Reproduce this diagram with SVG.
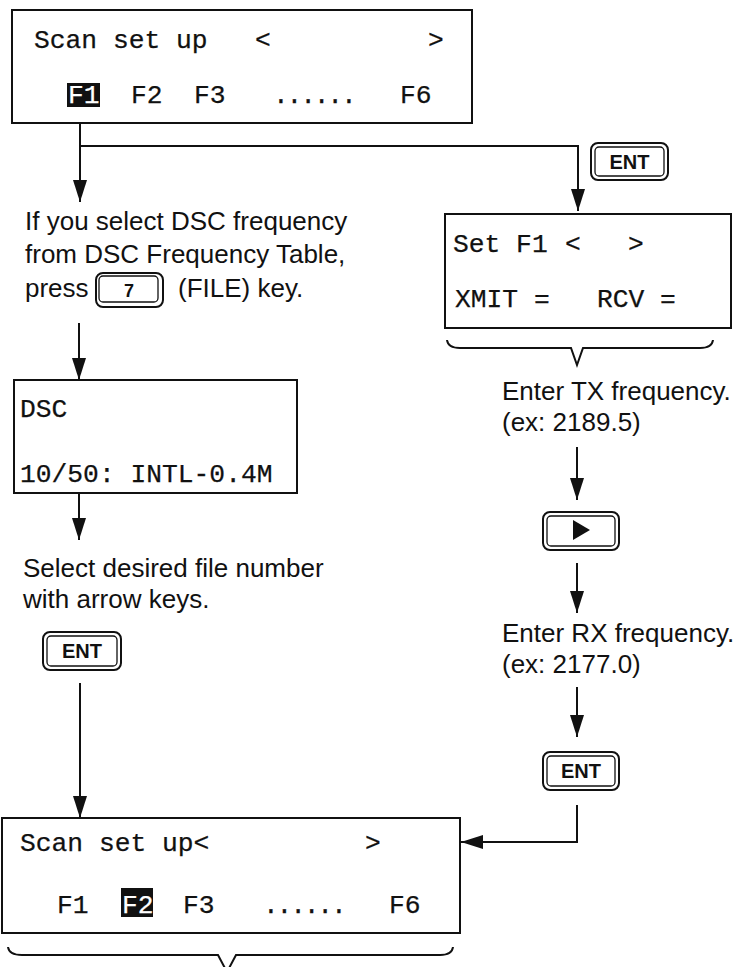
<svg xmlns="http://www.w3.org/2000/svg" width="745" height="967" viewBox="0 0 745 967">
<defs>
<style>
.box{fill:none;stroke:#111;stroke-width:2}
.mono{font-family:"Liberation Mono","DejaVu Sans Mono",monospace;font-size:26.3px;fill:#111;stroke:#111;stroke-width:0.25}
.inv{fill:#fff;stroke:#fff}
.sans{font-family:"Liberation Sans",Arial,sans-serif;font-size:26px;fill:#111}
.key{font-family:"Liberation Sans",Arial,sans-serif;font-weight:bold;font-size:20px;fill:#111;text-anchor:middle}
.kout{fill:#fff;stroke:#111;stroke-width:2}
.kin{fill:none;stroke:#111;stroke-width:1.3}
.conn{fill:none;stroke:#111;stroke-width:2}
.dots{letter-spacing:-2.2px}
</style>
<marker id="ah" markerUnits="userSpaceOnUse" markerWidth="22" markerHeight="14" refX="22" refY="7" orient="auto">
<path d="M0,0 L22,7 L0,14 Z" fill="#111"/>
</marker>
</defs>
<rect width="745" height="967" fill="#fff"/>

<g id="connectors">
<path class="conn" d="M80,123 V202" marker-end="url(#ah)"/>
<path class="conn" d="M80,146 H578 V211" marker-end="url(#ah)"/>
<path class="conn" d="M79,323 V380" marker-end="url(#ah)"/>
<path class="conn" d="M79,493 V540" marker-end="url(#ah)"/>
<path class="conn" d="M80,683 V818" marker-end="url(#ah)"/>
<path class="conn" d="M577,447 V500" marker-end="url(#ah)"/>
<path class="conn" d="M577,563 V613" marker-end="url(#ah)"/>
<path class="conn" d="M577,687 V737" marker-end="url(#ah)"/>
<path class="conn" d="M577,805 V842 H461" marker-end="url(#ah)"/>
<path class="conn" d="M447,340 Q448,348 460,348 H571 L577,365 L583,348 H700 Q712,348 713,340"/>
<path class="conn" d="M8,947 Q9,955 22,955 H218 L227,972 L236,955 H440 Q452,955 453,947"/>
</g>

<g id="top-display">
<rect class="box" x="12" y="10" width="460" height="113"/>
<text class="mono" y="48"><tspan x="34">Scan set up</tspan><tspan x="255">&lt;</tspan><tspan x="428">&gt;</tspan></text>
<rect x="67" y="83" width="33" height="24" fill="#111"/>
<text class="mono" y="103"><tspan x="68" class="inv">F1</tspan><tspan x="131">F2</tspan><tspan x="194">F3</tspan><tspan x="273" class="dots">......</tspan><tspan x="400">F6</tspan></text>
</g>

<g id="key-ent-top">
<rect class="kout" x="591" y="143" width="77" height="37" rx="7"/>
<rect class="kin" x="595" y="147" width="69" height="29" rx="4"/>
<text class="key" x="629.5" y="169">ENT</text>
</g>

<g id="text-select-dsc">
<text class="sans" x="25" y="230">If you select DSC frequency</text>
<text class="sans" x="25" y="263">from DSC Frequency Table,</text>
<text class="sans" x="25" y="297">press</text>
<text class="sans" x="178" y="297">(FILE) key.</text>
</g>

<g id="key-7">
<rect class="kout" x="96" y="273" width="67" height="34" rx="7"/>
<rect class="kin" x="99" y="276" width="59" height="26" rx="4"/>
<text class="key" x="129" y="297" style="font-size:18px">7</text>
</g>

<g id="set-f1-display">
<rect class="box" x="445" y="214" width="286" height="114"/>
<text class="mono" y="252"><tspan x="453">Set F1</tspan><tspan x="565">&lt;</tspan><tspan x="628">&gt;</tspan></text>
<text class="mono" y="307"><tspan x="455">XMIT =</tspan><tspan x="597">RCV =</tspan></text>
</g>

<g id="dsc-display">
<rect class="box" x="14" y="380" width="283" height="113"/>
<text class="mono" x="20" y="417">DSC</text>
<text class="mono" x="20" y="482">10/50: INTL-0.4M</text>
</g>

<g id="text-tx">
<text class="sans" x="502" y="400">Enter TX frequency.</text>
<text class="sans" x="502" y="431">(ex: 2189.5)</text>
</g>

<g id="key-right">
<rect class="kout" x="543" y="512" width="76" height="38" rx="7"/>
<rect class="kin" x="547" y="516" width="68" height="30" rx="4"/>
<path d="M573,520 L590,530 L573,540 Z" fill="#111"/>
</g>

<g id="text-select-file">
<text class="sans" x="23" y="577">Select desired file number</text>
<text class="sans" x="23" y="608">with arrow keys.</text>
</g>

<g id="text-rx">
<text class="sans" x="502" y="642">Enter RX frequency.</text>
<text class="sans" x="502" y="673">(ex: 2177.0)</text>
</g>

<g id="key-ent-left">
<rect class="kout" x="43" y="632" width="78" height="38" rx="7"/>
<rect class="kin" x="47" y="636" width="70" height="30" rx="4"/>
<text class="key" x="82" y="658">ENT</text>
</g>

<g id="key-ent-right">
<rect class="kout" x="543" y="752" width="76" height="38" rx="7"/>
<rect class="kin" x="547" y="756" width="68" height="30" rx="4"/>
<text class="key" x="581" y="778">ENT</text>
</g>

<g id="bottom-display">
<rect class="box" x="2" y="818" width="458" height="115"/>
<text class="mono" y="851"><tspan x="20">Scan set up&lt;</tspan><tspan x="365">&gt;</tspan></text>
<rect x="121" y="888" width="32" height="29" fill="#111"/>
<text class="mono" y="913"><tspan x="57">F1</tspan><tspan x="122" class="inv">F2</tspan><tspan x="183">F3</tspan><tspan x="263" class="dots">......</tspan><tspan x="389">F6</tspan></text>
</g>
</svg>
